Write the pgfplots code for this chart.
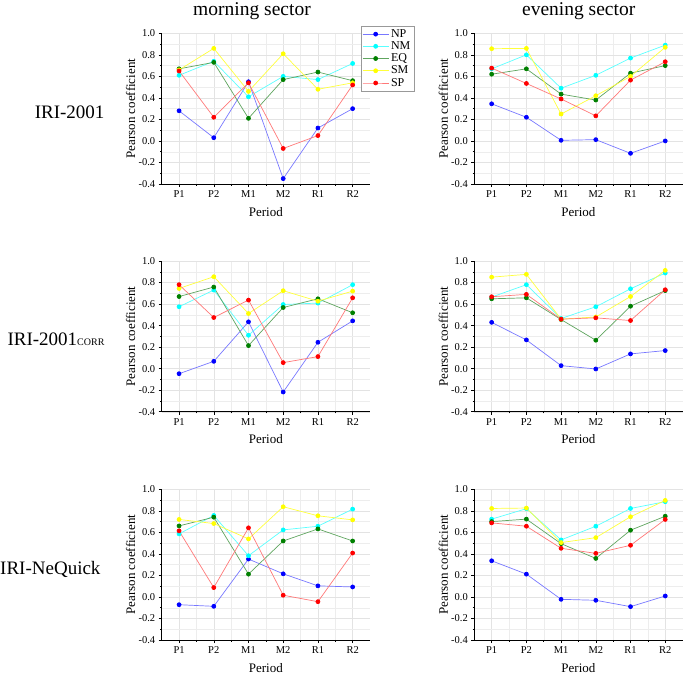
\documentclass[border=0pt]{standalone}
\usepackage{fontspec}
\setmainfont{Liberation Serif}
\usepackage{pgfplots}
\usepackage{pgfplotstable}
\pgfplotsset{compat=1.18}

\definecolor{cNP}{RGB}{0,0,255}
\definecolor{cNM}{RGB}{0,255,255}
\definecolor{cEQ}{RGB}{0,128,0}
\definecolor{cSM}{RGB}{255,255,0}
\definecolor{cSP}{RGB}{255,0,0}
\definecolor{lNP}{RGB}{120,120,255}
\definecolor{lNM}{RGB}{90,255,255}
\definecolor{lEQ}{RGB}{95,165,95}
\definecolor{lSM}{RGB}{255,255,60}
\definecolor{lSP}{RGB}{255,120,120}

% x = period index (P1 P2 M1 M2 R1 R2)
\pgfplotstableread{
x NP NM EQ SM SP
0 0.28 0.61 0.67 0.66 0.65
1 0.03 0.74 0.73 0.86 0.22
2 0.55 0.41 0.21 0.46 0.54
3 -0.35 0.60 0.57 0.81 -0.07
4 0.12 0.57 0.64 0.48 0.05
5 0.30 0.72 0.56 0.54 0.52
}\tA
\pgfplotstableread{
x NP NM EQ SM SP
0 0.345 0.67 0.62 0.857 0.677
1 0.22 0.80 0.67 0.86 0.534
2 0.006 0.49 0.435 0.25 0.39
3 0.012 0.61 0.38 0.42 0.233
4 -0.115 0.77 0.63 0.60 0.565
5 0.0 0.89 0.70 0.87 0.736
}\tB
\pgfplotstableread{
x NP NM EQ SM SP
0 -0.047 0.575 0.67 0.745 0.78
1 0.068 0.73 0.758 0.854 0.475
2 0.435 0.31 0.214 0.512 0.637
3 -0.217 0.596 0.568 0.724 0.056
4 0.245 0.609 0.649 0.627 0.112
5 0.444 0.78 0.519 0.72 0.658
}\tC
\pgfplotstableread{
x NP NM EQ SM SP
0 0.43 0.665 0.649 0.85 0.668
1 0.267 0.78 0.658 0.876 0.69
2 0.028 0.466 0.456 0.46 0.46
3 -0.003 0.575 0.264 0.48 0.472
4 0.137 0.742 0.58 0.67 0.447
5 0.168 0.888 0.725 0.913 0.733
}\tD
\pgfplotstableread{
x NP NM EQ SM SP
0 -0.072 0.586 0.66 0.72 0.614
1 -0.087 0.757 0.741 0.682 0.087
2 0.352 0.383 0.212 0.539 0.642
3 0.215 0.623 0.52 0.838 0.016
4 0.103 0.657 0.632 0.754 -0.044
5 0.093 0.816 0.52 0.716 0.408
}\tE
\pgfplotstableread{
x NP NM EQ SM SP
0 0.336 0.723 0.70 0.822 0.688
1 0.212 0.82 0.723 0.826 0.657
2 -0.022 0.53 0.495 0.505 0.452
3 -0.031 0.657 0.358 0.551 0.405
4 -0.09 0.822 0.62 0.745 0.48
5 0.009 0.885 0.75 0.897 0.72
}\tF

\pgfplotsset{
  panel/.style={
    scale only axis, width=208.3pt, height=150.7pt,
    anchor=south west,
    axis x line*=bottom, axis y line*=left,
    axis line style={black, line width=0.6pt},
    xmin=-0.5, xmax=5.5, ymin=-0.4, ymax=1.0,
    xtick={0,...,5}, xticklabels={P1,P2,M1,M2,R1,R2},
    ytick={-0.4,-0.2,0,0.2,0.4,0.6,0.8,1.0},
    minor x tick num=1, minor y tick num=1,
    tick align=outside,
    major tick length=3pt, minor tick length=1.6pt,
    tick style={black, line width=0.5pt},
    grid=both,
    major grid style={gray!22, line width=0.4pt},
    minor grid style={gray!14, line width=0.4pt},
    /pgf/number format/assume math mode=true,
    yticklabel style={/pgf/number format/.cd, fixed, fixed zerofill, precision=1},
    tick label style={font=\fontsize{10.5}{12}\selectfont},
    xlabel={Period}, ylabel={Pearson coefficient},
    label style={font=\fontsize{13}{15}\selectfont},
    xlabel style={at={(axis description cs:0.5,-0.184)}, anchor=center},
    ylabel style={at={(axis description cs:-0.149,0.5)}, anchor=center, rotate=0},
    clip=false,
  },
  sNP/.style={color=lNP, line width=0.7pt, mark=*, mark size=2pt, mark options={fill=cNP, draw=cNP}},
  sNM/.style={color=lNM, line width=0.7pt, mark=*, mark size=2pt, mark options={fill=cNM, draw=cNM}},
  sEQ/.style={color=lEQ, line width=0.7pt, mark=*, mark size=2pt, mark options={fill=cEQ, draw=cEQ}},
  sSM/.style={color=lSM, line width=0.7pt, mark=*, mark size=2pt, mark options={fill=cSM, draw=cSM}},
  sSP/.style={color=lSP, line width=0.7pt, mark=*, mark size=2pt, mark options={fill=cSP, draw=cSP}},
}

\newcommand{\fiveplots}[1]{%
  \addplot[sNP] table[x=x, y=NP]{#1};
  \addplot[sNM] table[x=x, y=NM]{#1};
  \addplot[sEQ] table[x=x, y=EQ]{#1};
  \addplot[sSM] table[x=x, y=SM]{#1};
  \addplot[sSP] table[x=x, y=SP]{#1};
}

\begin{document}
\begin{tikzpicture}
\useasboundingbox (0pt,0pt) rectangle (685pt,-675pt);

% row 1: IRI-2001
\begin{axis}[panel, at={(161.7pt,-184pt)},
  legend style={at={(axis description cs:0.955,1.05)}, anchor=north west,
    font=\fontsize{12}{13}\selectfont, draw=gray!80, fill=white,
    inner sep=1.5pt, row sep=-1.2pt, cells={anchor=west}},
  legend image code/.code={\draw[mark repeat=2, mark phase=2, #1] plot coordinates {(0pt,0pt) (13pt,0pt) (26pt,0pt)};}]
\fiveplots{\tA}
\legend{NP,NM,EQ,SM,SP}
\end{axis}
\begin{axis}[panel, at={(474.3pt,-184pt)}]
\fiveplots{\tB}
\end{axis}

% row 2: IRI-2001corr
\begin{axis}[panel, at={(161.7pt,-411.7pt)}]
\fiveplots{\tC}
\end{axis}
\begin{axis}[panel, at={(474.3pt,-411.7pt)}]
\fiveplots{\tD}
\end{axis}

% row 3: IRI-NeQuick
\begin{axis}[panel, at={(161.7pt,-640pt)}]
\fiveplots{\tE}
\end{axis}
\begin{axis}[panel, at={(474.3pt,-640pt)}]
\fiveplots{\tF}
\end{axis}

\node[anchor=base, font=\fontsize{19.5}{22}\selectfont] at (252pt,-15pt) {morning sector};
\node[anchor=base, font=\fontsize{19.5}{22}\selectfont] at (578.7pt,-15pt) {evening sector};

\node[anchor=base east, font=\fontsize{19}{22}\selectfont] at (108pt,-118pt) {IRI-2001};
\node[anchor=base east, font=\fontsize{19}{22}\selectfont] at (108pt,-345pt) {IRI-2001{\fontsize{10}{10}\selectfont CORR}};
\node[anchor=base east, font=\fontsize{19}{22}\selectfont] at (104pt,-574pt) {IRI-NeQuick};
\end{tikzpicture}
\end{document}
